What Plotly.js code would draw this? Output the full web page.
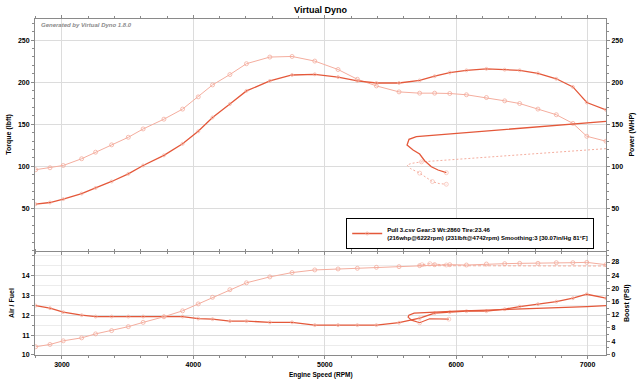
<!DOCTYPE html>
<html><head><meta charset="utf-8">
<script src="https://cdn.plot.ly/plotly-3.0.1.min.js"></script>
<style>html,body{margin:0;padding:0;background:#fff}#c{width:640px;height:383px}</style>
</head><body><div id="c"></div>
<script>
// Main pull (RPM increasing)
const rpmPull = [2800, 2909, 3010, 3150, 3256, 3378, 3505, 3618, 3776, 3918, 4037, 4146, 4278, 4404, 4582, 4751, 4924, 5101, 5248, 5393, 5565, 5722, 5836, 5951, 6078, 6230, 6369, 6483, 6622, 6762, 6888, 6994, 7140];
const torquePull = [96, 98.3, 101, 109, 116.8, 125.5, 134.5, 144.4, 156, 168, 182.5, 196.7, 209, 221.9, 229.8, 230.5, 225, 215, 203.4, 195.5, 188.4, 186.9, 186.9, 186.5, 185, 181.7, 177.8, 174.6, 168, 161.3, 151, 135.7, 129.8];
const powerPull = [55, 57, 61, 67.6, 74.3, 82, 91, 101, 113, 126.7, 141.6, 158, 174, 189.6, 201.4, 208.5, 209.3, 206, 201.4, 199, 199, 202, 207, 211.3, 214, 215.8, 214.8, 214, 210.5, 204, 194.3, 175.8, 167];
const afrPull = [12.48, 12.35, 12.15, 12.0, 11.93, 11.93, 11.93, 11.93, 11.93, 11.93, 11.83, 11.8, 11.7, 11.7, 11.64, 11.64, 11.5, 11.5, 11.5, 11.5, 11.62, 11.85, 12.1, 12.15, 12.2, 12.2, 12.3, 12.43, 12.55, 12.68, 12.85, 13.05, 12.85];
const boostPull = [2.3, 3.0, 4.1, 5.0, 6.2, 7.2, 8.4, 9.7, 11.4, 13.2, 15.3, 17.3, 19.6, 21.7, 23.5, 24.8, 25.6, 25.9, 26.1, 26.4, 26.6, 26.9, 27.2, 27.2, 27.1, 27.4, 27.5, 27.6, 27.6, 27.8, 27.8, 27.9, 27.2];

// Return path (RPM falling back, then loop)
const rpmTorqueRet = [7140, 6500, 6000, 5798, 5736, 5660, 5626, 5650, 5700, 5722, 5819, 5870, 5925];
const torqueRet = [121, 113.9, 109, 106.8, 105.3, 103.5, 101.5, 97.5, 93, 91.9, 81.9, 79.5, 78.7];
const rpmPowerRet = [7140, 6888, 6500, 6000, 5798, 5697, 5641, 5626, 5672, 5722, 5760, 5811, 5862, 5925];
const powerRet = [153.4, 150.1, 145.1, 138.5, 135.9, 135.3, 132.1, 125.3, 119.3, 114.6, 106.6, 99.5, 95.6, 92.4];
const rpmAfrRet = [7140, 6994, 6000, 5750, 5680, 5640, 5634, 5660, 5722, 5798, 5870, 5944];
const afrRet = [12.48, 12.43, 12.2, 12.15, 12.1, 12.0, 11.9, 11.75, 11.62, 11.82, 11.82, 11.8];
const rpmBoostRet = [7140, 6500, 6000, 5722, 5700, 5740, 5800, 5860, 5925];
const boostRet = [26.8, 26.8, 26.8, 26.8, 26.9, 27.2, 27.5, 27.3, 27.1];

const rpmTicks = [3000, 4000, 5000, 6000, 7000];
const torqueTicks = [50, 100, 150, 200, 250];
const afrTicks = [10, 11, 12, 13, 14];
const boostTicks = [0, 4, 8, 12, 16, 20, 24, 28];

const legendText = 'Pull 3.csv Gear:3 Wt:2860 Tire:23.46<br>(216whp@6222rpm) (231lbft@4742rpm) Smoothing:3 [30.07in/Hg 81°F]';

const dark = '#e4583a';
const light = '#f4ad9e';
const F = 'Liberation Sans, Arial, sans-serif';

function retSizes(n, marked, s) { return Array.from({length: n}, (_, i) => marked.includes(i) ? s : 0); }

const traces = [
  {x: rpmPull, y: torquePull, xaxis: 'x2', yaxis: 'y', mode: 'lines+markers', showlegend: false,
   line: {color: light, width: 1}, marker: {symbol: 'circle-open', size: 4, color: light, line: {width: 0.8}}},
  {x: rpmTorqueRet, y: torqueRet, xaxis: 'x2', yaxis: 'y', mode: 'lines+markers', showlegend: false,
   line: {color: light, width: 1, dash: '2px,2px'}, marker: {symbol: 'circle-open', size: retSizes(rpmTorqueRet.length, [4, 9, 10, 12], 4), color: light, line: {width: 0.8}}},
  {x: rpmPull, y: powerPull, xaxis: 'x2', yaxis: 'y3', mode: 'lines+markers', name: legendText, showlegend: true,
   line: {color: dark, width: 1.3}, marker: {symbol: 'circle-open', size: 3, color: light, line: {width: 0.7}}},
  {x: rpmPowerRet, y: powerRet, xaxis: 'x2', yaxis: 'y3', mode: 'lines+markers', showlegend: false,
   line: {color: dark, width: 1.3}, marker: {symbol: 'circle-open', size: retSizes(rpmPowerRet.length, [13], 4), color: light, line: {width: 0.8}}},
  {x: rpmPull, y: afrPull, xaxis: 'x', yaxis: 'y2', mode: 'lines+markers', showlegend: false,
   line: {color: dark, width: 1.3}, marker: {symbol: 'circle-open', size: 3, color: light, line: {width: 0.7}}},
  {x: rpmAfrRet, y: afrRet, xaxis: 'x', yaxis: 'y2', mode: 'lines+markers', showlegend: false,
   line: {color: dark, width: 1.2}, marker: {symbol: 'circle-open', size: retSizes(rpmAfrRet.length, [8, 11], 4), color: light, line: {width: 0.8}}},
  {x: rpmPull, y: boostPull, xaxis: 'x', yaxis: 'y4', mode: 'lines+markers', showlegend: false,
   line: {color: light, width: 1}, marker: {symbol: 'circle-open', size: 4, color: light, line: {width: 0.8}}},
  {x: rpmBoostRet, y: boostRet, xaxis: 'x', yaxis: 'y4', mode: 'lines+markers', showlegend: false,
   line: {color: light, width: 1, dash: '3px,2px'}, marker: {symbol: 'circle-open', size: retSizes(rpmBoostRet.length, [5, 6, 8], 4), color: light, line: {width: 0.8}}}
];

const tickFont = {family: F, size: 7, color: '#000', weight: 'bold'};
const axLine = '#8a8a8a';
const grid = '#dcdcdc';
const xbase = {range: [2795, 7140], tickvals: rpmTicks, showgrid: true, gridcolor: grid, gridwidth: 1,
  ticks: 'outside', ticklen: 3, tickcolor: axLine, showline: true, linecolor: axLine, linewidth: 1, mirror: 'ticks',
  zeroline: false, tickfont: tickFont, minor: {dtick: 200, tick0: 3000, ticks: 'outside', ticklen: 2, tickcolor: axLine, showgrid: false}};

const layout = {
  width: 640, height: 383,
  margin: {l: 35, r: 34, t: 19, b: 28},
  paper_bgcolor: '#fff', plot_bgcolor: '#fff',
  font: {family: F},
  title: {text: 'Virtual Dyno', font: {family: F, size: 9, color: '#000', weight: 'bold'}, x: 0.5, xref: 'paper', y: 1 - 9.5 / 383, yref: 'container', yanchor: 'middle'},
  xaxis: Object.assign({}, xbase, {anchor: 'y2', domain: [0, 1]}),
  xaxis2: Object.assign({}, xbase, {anchor: 'y', matches: 'x', domain: [0, 1], showticklabels: false}),
  yaxis: {domain: [0.311, 1], range: [0, 275], tickvals: torqueTicks, showgrid: true, gridcolor: grid,
    ticks: 'outside', ticklen: 3, tickcolor: axLine, showline: true, linecolor: axLine, zeroline: false, tickfont: tickFont,
    minor: {dtick: 10, tick0: 0, ticks: 'outside', ticklen: 2, tickcolor: axLine, showgrid: false}},
  yaxis3: {overlaying: 'y', side: 'right', anchor: 'x2', range: [0, 275], tickvals: torqueTicks, showgrid: false,
    ticks: 'outside', ticklen: 3, tickcolor: axLine, showline: true, linecolor: axLine, zeroline: false, tickfont: tickFont,
    minor: {dtick: 10, tick0: 0, ticks: 'outside', ticklen: 2, tickcolor: axLine, showgrid: false}},
  yaxis2: {domain: [0, 0.3065], range: [10, 15.17], tickvals: afrTicks, showgrid: true, gridcolor: grid,
    ticks: 'outside', ticklen: 3, tickcolor: axLine, showline: true, linecolor: axLine, zeroline: false, tickfont: tickFont,
    minor: {dtick: 0.5, tick0: 10, ticks: 'outside', ticklen: 2, tickcolor: axLine, showgrid: true, gridcolor: '#ececec'}},
  yaxis4: {overlaying: 'y2', side: 'right', anchor: 'x', range: [-0.2, 31.04], tickvals: boostTicks, showgrid: false,
    ticks: 'outside', ticklen: 3, tickcolor: axLine, showline: true, linecolor: axLine, zeroline: false, tickfont: tickFont,
    minor: {dtick: 2, tick0: 0, ticks: 'outside', ticklen: 2, tickcolor: axLine, showgrid: false}},
  showlegend: true,
  legend: {x: 0.545, y: 0.3155, xanchor: 'left', yanchor: 'bottom', bgcolor: '#fff', bordercolor: '#000', borderwidth: 1,
    font: {family: F, size: 6, color: '#000', weight: 'bold'}, itemwidth: 30, tracegroupgap: 0},
  annotations: [
    {text: '<i>Generated by Virtual Dyno 1.8.0</i>', xref: 'paper', yref: 'paper', x: 0.007, y: 0.982, xanchor: 'left', yanchor: 'middle', showarrow: false,
     font: {family: F, size: 6, color: '#8a8a8a', weight: 'bold'}},
    {text: 'Torque (lbft)', xref: 'paper', yref: 'paper', x: -0.047, y: 0.656, textangle: -90, showarrow: false, xanchor: 'center', yanchor: 'middle',
     font: {family: F, size: 7, color: '#000', weight: 'bold'}},
    {text: 'Power (WHP)', xref: 'paper', yref: 'paper', x: 1.0455, y: 0.656, textangle: -90, showarrow: false, xanchor: 'center', yanchor: 'middle',
     font: {family: F, size: 7, color: '#000', weight: 'bold'}},
    {text: 'Air / Fuel', xref: 'paper', yref: 'paper', x: -0.040, y: 0.155, textangle: -90, showarrow: false, xanchor: 'center', yanchor: 'middle',
     font: {family: F, size: 7, color: '#000', weight: 'bold'}},
    {text: 'Boost (PSI)', xref: 'paper', yref: 'paper', x: 1.037, y: 0.155, textangle: -90, showarrow: false, xanchor: 'center', yanchor: 'middle',
     font: {family: F, size: 7, color: '#000', weight: 'bold'}},
    {text: 'Engine Speed (RPM)', xref: 'paper', yref: 'paper', x: 0.5, y: -0.0595, showarrow: false, xanchor: 'center', yanchor: 'middle',
     font: {family: F, size: 6.5, color: '#000', weight: 'bold'}}
  ]
};

Plotly.newPlot('c', traces, layout, {displayModeBar: false, staticPlot: true});
</script>
</body></html>
